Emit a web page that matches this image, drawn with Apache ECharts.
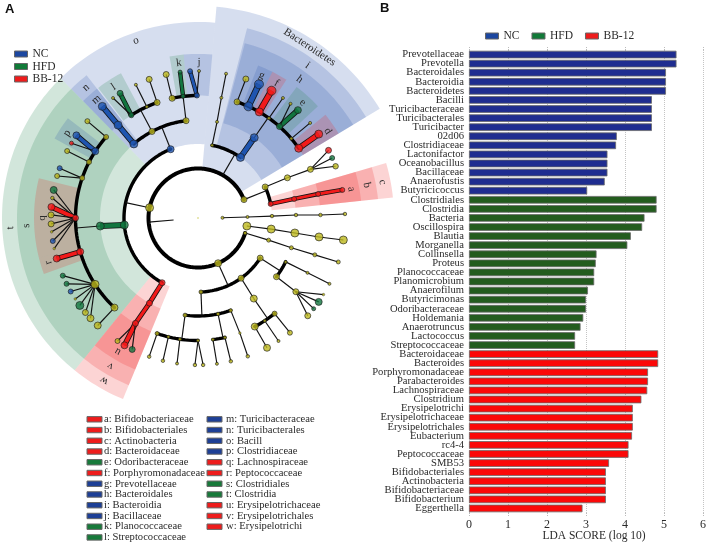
<!DOCTYPE html>
<html><head><meta charset="utf-8">
<style>html,body{margin:0;padding:0;background:#fff}#c{width:708px;height:545px}</style>
<script src="https://cdn.jsdelivr.net/npm/echarts@6/dist/echarts.min.js"></script>
</head><body><div id="c"></div>
<script>
// ---------- bar panel data ----------
const ncNames=['Prevotellaceae','Prevotella','Bacteroidales','Bacteroidia','Bacteroidetes','Bacilli','Turicibacteraceae','Turicibacterales','Turicibacter','02d06','Clostridiaceae','Lactonifactor','Oceanobacillus','Bacillaceae','Anaerofustis','Butyricicoccus'];
const ncValues=[5.32,5.32,5.05,5.05,5.05,4.69,4.69,4.69,4.69,3.79,3.77,3.55,3.55,3.55,3.48,3.03];
const hfdNames=['Clostridiales','Clostridia','Bacteria','Oscillospira','Blautia','Morganella','Collinsella','Proteus','Planococcaceae','Planomicrobium','Anaerofilum','Butyricimonas','Odoribacteraceae','Holdemania','Anaerotruncus','Lactococcus','Streptococcaceae'];
const hfdValues=[4.81,4.81,4.50,4.44,4.15,4.06,3.27,3.25,3.21,3.21,3.05,3.0,3.0,2.93,2.86,2.72,2.72];
const bbNames=['Bacteroidaceae','Bacteroides','Porphyromonadaceae','Parabacteroides','Lachnospiraceae','Clostridium','Erysipelotrichi','Erysipelotrichaceae','Erysipelotrichales','Eubacterium','rc4-4','Peptococcaceae','SMB53','Bifidobacteriales','Actinobacteria','Bifidobacteriaceae','Bifidobacterium','Eggerthella'];
const bbValues=[4.85,4.85,4.59,4.59,4.57,4.42,4.2,4.2,4.2,4.18,4.09,4.09,3.59,3.51,3.51,3.51,3.51,2.91];
// ---------- clade key ----------
const cladeKeyLeft=[['a: Bifidobacteriaceae','R'],['b: Bifidobacteriales','R'],['c: Actinobacteria','R'],['d: Bacteroidaceae','R'],['e: Odoribacteraceae','G'],['f: Porphyromonadaceae','R'],['g: Prevotellaceae','B'],['h: Bacteroidales','B'],['i: Bacteroidia','B'],['j: Bacillaceae','B'],['k: Planococcaceae','G'],['l: Streptococcaceae','G']];
const cladeKeyRight=[['m: Turicibacteraceae','B'],['n: Turicibacterales','B'],['o: Bacill','B'],['p: Clostridiaceae','B'],['q: Lachnospiraceae','R'],['r: Peptococcaceae','R'],['s: Clostridiales','G'],['t: Clostridia','G'],['u: Erysipelotrichaceae','R'],['v: Erysipelotrichales','R'],['w: Erysipelotrichi','R']];
// ---------- cladogram: ring radius per taxonomic level ----------
const levelRadius=[0,24.5,49.5,74,98,122.5,147];
const bandOuter={2:212,3:196,4:181,5:164};
const labelRadius={2:204,3:188,4:172,5:156};
// band: text, level, from angle, to angle, group, label angle
const bands=[
['Bacteroidetes',2,31,85,'B',56.8],
['o',3,85,134.5,'B',109.3],['t',3,134.5,231,'G',183],['w',3,231,247.5,'R',240],['i',3,31,75.5,'B',54.3],['c',3,6,16.3,'R',11],
['h',4,31,75,'B',53.8],['n',4,128,134.5,'B',130.7],['s',4,134.5,231,'G',182.6],['v',4,231,247.5,'R',239.4],['b',4,6,16.3,'R',11],
['g',5,63,68.5,'B',65.9],['f',5,57.4,63,'R',59.8],['e',5,43,53,'G',47.8],['d',5,31,39,'R',33.8],['m',5,128,134.5,'B',130.6],['l',5,118,127.5,'G',122.8],
['k',5,95,100,'G',97],['j',5,85,95,'B',89.6],['p',5,142.5,151,'B',147],['q',5,166,194,'R',180],['r',5,194,200,'R',196.6],['u',5,231,247.5,'R',239],['a',5,6,16.3,'R',10.7]];
// node: id, parent, level, angle, marker size, group
const treeNodes=[
['root',null,0,0,1.5,'Y'],['A',null,1,184.8,0,''],['Bx',null,1,0.5,3,'Y'],
['b2','Bx',2,1.2,3,'Y'],['b3','b2',3,1.5,3.5,'Y'],['b4','b3',4,1.75,3.5,'Y'],['b5','b4',5,1.4,3.5,'Y'],['b6','b5',6,1.56,3.5,'Y'],
['c2',null,2,350.7,8,'Y'],['c3','c2',3,351.4,8,'Y'],['c4','c3',4,351.2,8,'Y'],['c5','c4',5,351.1,8,'Y'],['c6','c5',6,351.4,8,'Y'],
['d2','A',2,342.3,3.5,'Y'],['d3','d2',3,342.6,4,'Y'],['d4','d3',4,342.3,4,'Y'],['d5','d4',5,342.5,4,'Y'],['d6','d5',6,342.6,4,'Y'],
['e2','A',2,21.8,6,'Y'],['e3','e2',3,24.8,6,'Y'],['e4','e3',4,24.2,6,'Y'],['e5','e4',5,23.4,6,'Y'],['e6a','e5',6,27.4,6,'R'],['e6b','e5',6,24.1,5,'G'],['e6c','e5',6,20.6,5.5,'Y'],
['a3','e2',3,11,5,'R'],['a4','a3',4,11.2,5,'R'],['a5','a4',5,11.3,5,'R'],['a6','a5',6,11,5,'R'],
['f2','A',2,60,0,''],['fy3','f2',3,79,3,'Y'],['fy4','fy3',4,78.8,3,'Y'],['fy5','fy4',5,79,3,'Y'],['fy6','fy5',6,79,3,'Y'],
['f3','f2',3,55,8,'B'],['f4','f3',4,55,8,'B'],
['f5a','f4',5,71.4,6,'Y'],['f6a','f5a',6,71,6,'Y'],
['f5g','f4',5,65.7,9,'B'],['f6g','f5g',6,65.5,9,'B'],
['f5f','f4',5,60,8,'R'],['f6f','f5f',6,60,9,'R'],
['f5y','f4',5,54.6,3,'Y'],['f6y','f5y',6,54.7,3,'Y'],
['f5e','f4',5,48.3,6,'G'],['f6e','f5e',6,47.2,7,'G'],['f6e2','f5e',6,51,3,'Y'],
['f5x','f4',5,40.4,3,'Y'],['f6x','f5x',6,40.3,3,'Y'],
['f5d','f4',5,34.7,8,'R'],['f6d','f5d',6,34.8,8,'R'],
['g2','A',2,168,8,'Y'],['g3b','g2',3,111.7,7,'B'],['g3g','g2',3,185.4,8,'G'],['g3r','g2',3,241,6,'R'],
['h4m','g3b',4,130.9,8,'B'],['h5m','h4m',5,130.7,8,'B'],['h6m','h5m',6,130.6,8,'B'],
['h4y','g3b',4,118,6,'Y'],['h5l','h4y',5,123,5,'G'],['h6l','h5l',6,122,6,'G'],['h6l2','h5l',6,125.3,3,'Y'],
['h5y','h4y',5,114.7,3,'Y'],['h6y','h5y',6,115,3,'Y'],['h5z','h4y',5,109.5,6,'Y'],['h6z','h5z',6,109.4,6,'Y'],
['h4z','g3b',4,97,6,'Y'],['k5a','h4z',5,102.2,6,'Y'],['k6a','k5a',6,102.5,6,'Y'],
['k5b','h4z',5,97,4,'G'],['k6b','k5b',6,97,4,'G'],['k5c','h4z',5,90.5,5,'B'],['k6c','k5c',6,93.1,5,'B'],['k6d','k5c',6,89.6,3,'Y'],
['m4','g3g',4,184.7,8,'G'],
['m5a','m4',5,138.6,5,'Y'],['m6a','m5a',6,138.8,5,'Y'],
['m5p','m4',5,147,7,'B'],['m6p','m5p',6,145.8,7,'B'],['m6p2','m5p',6,149.4,4,'R'],
['m5b','m4',5,152.8,5,'Y'],['m6b','m5b',6,152.9,5,'Y'],
['m5c','m4',5,161,5,'Y'],['m6c','m5c',6,160.2,5,'B'],['m6c2','m5c',6,163.4,5,'Y'],
['m5q','m4',5,180,6,'R'],['q1','m5q',6,169,7,'G'],['q2','m5q',6,172.2,3.5,'Y'],['q3','m5q',6,175.7,7,'R'],['q4','m5q',6,178.8,6,'Y'],['q5','m5q',6,182.3,6,'Y'],['q6','m5q',6,185.4,2.5,'Y'],['q7','m5q',6,189,5,'B'],['q8','m5q',6,192,2.5,'Y'],
['m5r','m4',5,196,7,'R'],['m6r','m5r',6,196,7,'R'],
['m5s','m4',5,212.8,8,'Y'],['s1','m5s',6,203.1,5,'G'],['s2','m5s',6,206.6,5,'G'],['s3','m5s',6,210,5,'B'],['s4','m5s',6,213.4,2.5,'Y'],['s5','m5s',6,216.5,8,'G'],['s6','m5s',6,220,6,'Y'],['s7','m5s',6,223,7,'Y'],
['m5t','m4',5,227,7,'Y'],['m6t','m5t',6,227,7,'Y'],
['u4','g3r',4,240.3,6,'R'],['u5','u4',5,239.3,6,'R'],['u6a','u5',6,236.8,5,'Y'],['u6b','u5',6,240,7,'R'],['u6c','u5',6,243.4,6,'G'],
['n2','A',2,294,7,'Y'],['n3a','n2',3,327.2,6,'Y'],['n3b','n2',3,305.6,6,'Y'],['n3c','n2',3,272.3,4,'Y'],
['n4a','n3a',4,333.4,3,'Y'],['n5a','n4a',5,333.4,3,'Y'],['n6a','n5a',6,333.4,3,'Y'],
['n4b','n3a',4,323.2,6,'Y'],['n5b','n4b',5,323,6,'Y'],['p1','n5b',6,328.6,2.5,'Y'],['p2','n5b',6,325.2,7,'G'],['p3','n5b',6,321.9,4,'G'],['p4','n5b',6,318.3,6,'Y'],
['n4c','n3b',4,304.7,7,'Y'],['n5c','n4c',5,308.7,5,'Y'],['n6c','n5c',6,308.7,5,'Y'],['n5d','n4c',5,303,3,'Y'],['n6d','n5d',6,303.2,3,'Y'],['n5e','n4c',5,297.6,7,'Y'],['n6e','n5e',6,298,7,'Y'],
['o4a','n3c',4,262.4,4,'Y'],['o4b','n3c',4,281.8,3.5,'Y'],['o4c','n3c',4,289.5,3.5,'Y'],
['o5c','o4c',5,290,2.5,'Y'],['o6c','o5c',6,289.8,3.5,'Y'],
['o5b','o4b',5,277,3,'Y'],['o6b','o5b',6,277.4,3,'Y'],['o5b2','o4b',5,282.7,3,'Y'],['o6b2','o5b2',6,282.9,3.5,'Y'],
['o5a','o4a',5,250.5,4,'Y'],['o6a','o5a',6,250.6,3.5,'Y'],['o5a2','o4a',5,256,3,'Y'],['o6a2','o5a2',6,256.2,3.5,'Y'],['o5a3','o4a',5,261.5,3,'Y'],['o6a3','o5a3',6,261.8,3,'Y'],['o5a4','o4a',5,270,3,'Y'],['o6a4','o5a4',6,268.8,3.5,'Y'],['o6a5','o5a4',6,272,3.5,'Y']
];
// ---------- styles ----------
const nodeColor={Y:'#bdb81c',B:'#1f55b0',G:'#12753f',R:'#f21a1a'};
const bandColor={B:'rgba(50,90,175,0.2)',G:'rgba(50,140,90,0.22)',R:'rgba(240,40,40,0.2)'};
const keyColor={B:'#1d3f96',G:'#177a3a',R:'#ee1c1c'};
const SERIF='"Liberation Serif","Times New Roman",serif';
const TXT='#2a2a2a';
// ---------- tree → edges ----------
const byId={};treeNodes.forEach(r=>byId[r[0]]={id:r[0],parent:r[1],level:r[2],angle:r[3],size:r[4],col:r[5],kids:[]});
treeNodes.forEach(r=>{if(r[1])byId[r[1]].kids.push(byId[r[0]]);});
const edges=[];
Object.values(byId).forEach(n=>{
  if(!n.kids.length)return;
  const childLevel=n.level+1;
  if(childLevel<=5&&n.kids.length>1){
    const as=n.kids.map(k=>k.angle);
    edges.push({t:'arc',level:childLevel,a0:Math.min(...as),a1:Math.max(...as),w:childLevel==2?4:3.4});
    edges.push({t:'line',p:[levelRadius[n.level],n.angle],q:[levelRadius[childLevel],n.angle],w:1.15});
  }else n.kids.forEach(k=>{
    const thick=k.col!='Y'&&k.col==n.col;
    edges.push({t:'line',p:[levelRadius[n.level],n.angle],q:[levelRadius[childLevel],k.angle],w:thick?Math.max(2.8,k.size*0.55):1.15,fill:thick?nodeColor[k.col]:null});
  });
});
const nodeData=treeNodes.filter(r=>r[4]>0).map(r=>({value:[levelRadius[r[2]],r[3]],symbolSize:r[4],itemStyle:{color:nodeColor[r[5]],borderColor:r[0]=='root'?'transparent':'#1c1c1c',borderWidth:r[4]<3?0.5:0.8}}));

function arcPts(api,r,a0,a1){const pts=[],n=Math.max(2,Math.ceil(Math.abs(a1-a0)/1.5));
  for(let i=0;i<=n;i++)pts.push(api.coord([r,a0+(a1-a0)*i/n]));return pts;}

const cats=[...ncNames,...hfdNames,...bbNames];
const pad=(before,vals,after)=>[...Array(before).fill(null),...vals,...Array(after).fill(null)];
const barSeries=(name,color,data)=>({name,type:'bar',stack:'all',xAxisIndex:0,yAxisIndex:0,barWidth:7.6,data,itemStyle:{color,borderColor:'#6a6a6a',borderWidth:0.8},z:3});

const keyGraphics=[];
[[cladeKeyLeft,87,104],[cladeKeyRight,207,226]].forEach(([list,sx,tx])=>list.forEach((e,i)=>{
  const y=419.3+i*10.74;
  keyGraphics.push({type:'rect',shape:{x:sx,y:y-2.7,width:15,height:5.4},style:{fill:keyColor[e[1]],stroke:'#666',lineWidth:1}});
  keyGraphics.push({type:'text',x:tx,y:y,style:{text:e[0],font:'10.6px '+SERIF,fill:TXT,verticalAlign:'middle',align:'left'}});
}));
keyGraphics.push({type:'text',x:5,y:9,style:{text:'A',font:'bold 13px "Liberation Sans",Arial,sans-serif',fill:'#111',verticalAlign:'middle'}});
keyGraphics.push({type:'text',x:380,y:8,style:{text:'B',font:'bold 13px "Liberation Sans",Arial,sans-serif',fill:'#111',verticalAlign:'middle'}});

const legendData=[{name:'NC',itemStyle:{color:'#1c47a0'}},{name:'HFD',itemStyle:{color:'#117a38'}},{name:'BB-12',itemStyle:{color:'#ee1c1c'}}];
const legendBase={selectedMode:false,icon:'rect',itemWidth:13,itemHeight:6,padding:0,data:legendData,
  itemStyle:{borderColor:'#666',borderWidth:1},textStyle:{fontFamily:SERIF,fontSize:11.5,color:TXT}};

const chart=echarts.init(document.getElementById('c'),null,{renderer:'canvas'});
chart.setOption({
  animation:false,backgroundColor:'#fff',
  graphic:{elements:keyGraphics},
  legend:[
    Object.assign({},legendBase,{orient:'vertical',left:14,top:48,itemGap:0.5}),
    Object.assign({},legendBase,{orient:'horizontal',left:485,top:30,itemGap:12})
  ],
  polar:{center:[198,218],radius:212},
  angleAxis:{type:'value',min:0,max:360,startAngle:0,clockwise:false,show:false},
  radiusAxis:{type:'value',min:0,max:212,show:false},
  grid:{left:469,top:50,width:234,height:463,containLabel:false,outerBoundsMode:'none'},
  xAxis:[
    {type:'value',min:0,max:6,interval:1,position:'bottom',
     axisLine:{show:false},axisTick:{show:true,length:4,lineStyle:{color:'#bbb',type:'dotted'}},
     splitLine:{show:true,lineStyle:{color:'#c4c4c4',type:'dotted',width:1}},
     axisLabel:{fontFamily:SERIF,fontSize:12,color:TXT,margin:6},
     name:'LDA SCORE (log 10)',nameLocation:'middle',nameGap:17,nameMoveOverlap:false,
     nameTextStyle:{fontFamily:SERIF,fontSize:11.5,color:TXT,padding:[0,0,0,16]}},
    {type:'value',min:0,max:6,interval:1,position:'top',
     axisLine:{show:false},axisTick:{show:true,length:4,lineStyle:{color:'#bbb',type:'dotted'}},
     splitLine:{show:false},axisLabel:{show:false}}
  ],
  yAxis:{type:'category',inverse:true,data:cats,axisLine:{show:false},axisTick:{show:false},
     axisLabel:{interval:0,margin:5,fontFamily:SERIF,fontSize:10.6,color:TXT}},
  series:[
    {type:'custom',name:'bands',coordinateSystem:'polar',z:1,silent:true,data:bands.map(()=>[0,0]),
     renderItem(p,api){const b=bands[p.dataIndex];
       const pts=arcPts(api,bandOuter[b[1]],b[2],b[3]).concat(arcPts(api,levelRadius[b[1]],b[3],b[2]));
       return {type:'polygon',shape:{points:pts},style:{fill:bandColor[b[4]]}};}},
    {type:'custom',name:'edges',coordinateSystem:'polar',z:2,silent:true,data:edges.map(()=>[0,0]),
     renderItem(p,api){const e=edges[p.dataIndex];
       if(e.t=='arc')return {type:'polyline',shape:{points:arcPts(api,levelRadius[e.level],e.a0,e.a1)},style:{fill:null,stroke:'#000',lineWidth:e.w,lineCap:'round',lineJoin:'round'}};
       const pts=[api.coord(e.p),api.coord(e.q)];
       const kids=[];
       if(e.fill)kids.push({type:'polyline',shape:{points:pts},style:{fill:null,stroke:'#111',lineWidth:e.w+1.6}});
       kids.push({type:'polyline',shape:{points:pts},style:{fill:null,stroke:e.fill||'#111',lineWidth:e.w}});
       return {type:'group',children:kids};}},
    {type:'scatter',name:'nodes',coordinateSystem:'polar',z:4,silent:true,data:nodeData,symbol:'circle'},
    {type:'custom',name:'labels',coordinateSystem:'polar',z:5,silent:true,data:bands.map(()=>[0,0]),
     renderItem(p,api){const b=bands[p.dataIndex];const c=api.coord([labelRadius[b[1]],b[5]]);
       return {type:'text',x:c[0],y:c[1],rotation:(b[5]-90)*Math.PI/180,
         style:{text:b[0],font:'11px '+SERIF,fill:TXT,align:'center',verticalAlign:'middle'}};}},
    barSeries('NC','#1f2d90',pad(0,ncValues,hfdNames.length+bbNames.length)),
    barSeries('HFD','#235c1e',pad(ncNames.length,hfdValues,bbNames.length)),
    barSeries('BB-12','#fb0808',pad(ncNames.length+hfdNames.length,bbValues,0))
  ]
});
</script></body></html>
